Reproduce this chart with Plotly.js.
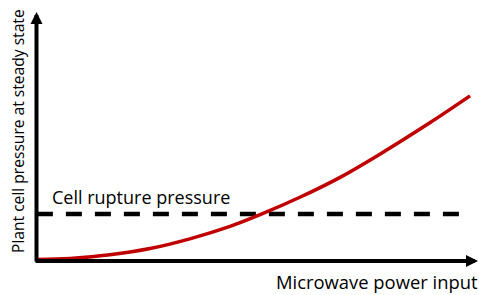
<!DOCTYPE html>
<html>
<head>
<meta charset="utf-8">
<script src="https://cdn.plot.ly/plotly-3.0.1.min.js"></script>
<style>html,body{margin:0;padding:0;background:#fff;}#chart{width:479px;height:295px;}</style>
</head>
<body>
<div id="chart"></div>
<script>
// Data (arbitrary units, conceptual chart)
var powerInput   = [0.2, 7.7, 16.7, 25.8, 34.8, 43.9, 50.7, 59.7, 68.8, 77.8, 89.1, 98.2];
var cellPressure = [0.6, 1.0, 2.5, 5.0, 8.9, 13.9, 18.6, 25.6, 33.6, 42.9, 55.5, 66.3];
var ruptureX     = [0.2, 98.2];
var ruptureLevel = [18.9, 18.9];

var xTitle = 'Microwave power input';
var yTitle = 'Plant cell pressure at steady state';
var ruptureLabel = 'Cell rupture pressure';

var FONT = 'Open Sans, Segoe UI, Calibri, sans-serif';

var traces = [
  {x: ruptureX, y: ruptureLevel, mode: 'lines', type: 'scatter',
   line: {color: '#000000', width: 4.5, dash: '16px,13px'}, hoverinfo: 'skip', cliponaxis: false},
  {x: powerInput, y: cellPressure, mode: 'lines', type: 'scatter',
   line: {color: '#c00000', width: 3.5, shape: 'spline'}, hoverinfo: 'skip', cliponaxis: false}
];

var L = 36, T = 12, W = 442, H = 249;
function px(x){ return (x - L) / W; }
function py(y){ return (T + H - y) / H; }

var layout = {
  width: 479, height: 295,
  margin: {l: L, r: 479 - L - W, t: T, b: 295 - T - H, pad: 0},
  paper_bgcolor: '#ffffff', plot_bgcolor: '#ffffff',
  showlegend: false,
  xaxis: {range: [0, 100], showgrid: false, zeroline: false, showticklabels: false, showline: false, ticks: ''},
  yaxis: {range: [0, 100], showgrid: false, zeroline: false, showticklabels: false, showline: false, ticks: ''},
  annotations: [
    // y axis arrow
    {xref: 'paper', yref: 'paper', x: px(36.5), y: py(12), ax: 0, ay: 251, text: '',
     showarrow: true, arrowhead: 2, arrowsize: 0.6, arrowwidth: 4, arrowcolor: '#000000', standoff: 0},
    // x axis arrow
    {xref: 'paper', yref: 'paper', x: px(478), y: py(261), ax: -444, ay: 0, text: '',
     showarrow: true, arrowhead: 2, arrowsize: 0.6, arrowwidth: 4, arrowcolor: '#000000', standoff: 0},
    {xref: 'paper', yref: 'paper', x: px(479.5), y: py(281.5), xanchor: 'right', yanchor: 'middle',
     text: xTitle, showarrow: false, font: {family: FONT, size: 18.4, color: '#000000'}},
    {xref: 'paper', yref: 'paper', x: px(18), y: py(131), xanchor: 'center', yanchor: 'middle',
     textangle: -90, text: yTitle, showarrow: false, font: {family: FONT, size: 15.6, color: '#000000'}},
    {xref: 'paper', yref: 'paper', x: px(50), y: py(197), xanchor: 'left', yanchor: 'middle',
     text: ruptureLabel, showarrow: false, font: {family: FONT, size: 18, color: '#000000'}}
  ]
};

Plotly.newPlot('chart', traces, layout, {displayModeBar: false, staticPlot: true});
</script>
</body>
</html>
